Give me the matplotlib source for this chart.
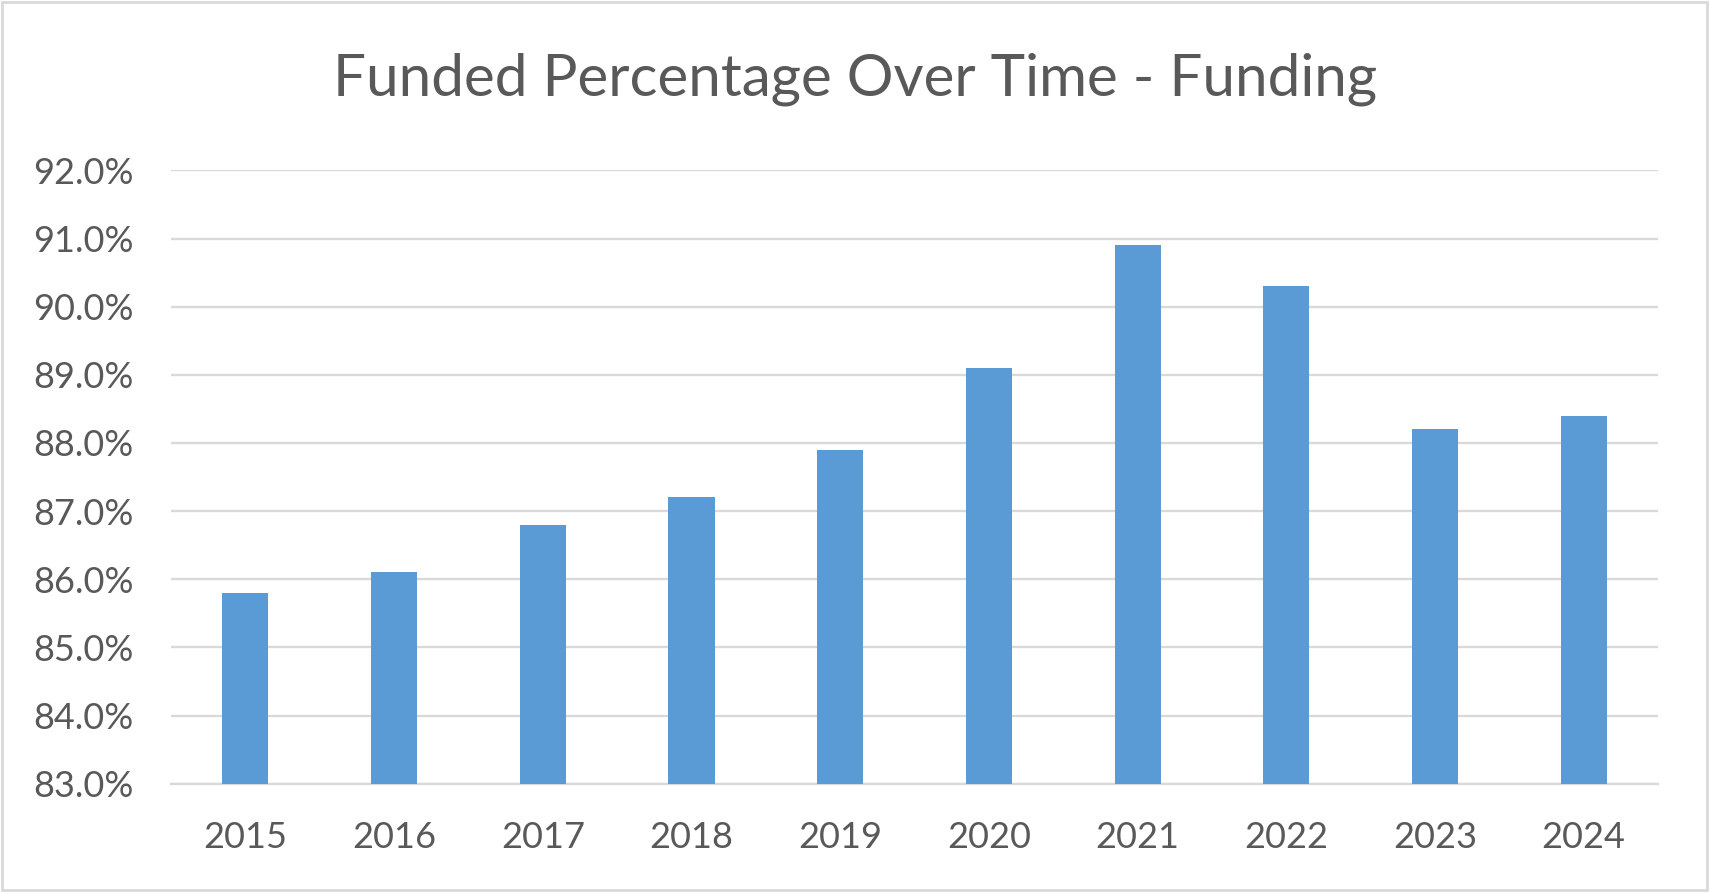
import matplotlib
matplotlib.use("Agg")
import matplotlib.pyplot as plt
from matplotlib.patches import Rectangle

years = ["2015", "2016", "2017", "2018", "2019", "2020", "2021", "2022", "2023", "2024"]
funded_pct = [85.8, 86.1, 86.8, 87.2, 87.9, 89.1, 90.9, 90.3, 88.2, 88.4]
y_ticks = [83, 84, 85, 86, 87, 88, 89, 90, 91, 92]

text_color = "#595959"
grid_color = "#d9d9d9"
bar_color = "#5b9bd5"

plt.rcParams['font.family'] = ['Lato', 'DejaVu Sans']

fig = plt.figure(figsize=(17.1, 8.92), dpi=100)
ax = fig.add_axes([0.1, 0.1214, 0.8696, 0.6876])

x = range(len(years))
ax.bar(x, [v - 83 for v in funded_pct], bottom=83, width=0.31, color=bar_color, zorder=3)

ax.set_xlim(-0.5, len(years) - 0.5)
ax.set_ylim(83, 92)
ax.set_yticks(y_ticks)
ax.set_yticklabels([f"{v:.1f}%" for v in y_ticks])
ax.set_xticks(list(x))
ax.set_xticklabels(years)

ax.grid(axis='y', color=grid_color, linewidth=1.7, zorder=0)
ax.tick_params(axis='both', length=0, labelsize=26, labelcolor=text_color)
ax.tick_params(axis='y', pad=27)
ax.tick_params(axis='x', pad=27)
for s in ["top", "right", "left"]:
    ax.spines[s].set_visible(False)
ax.spines["bottom"].set_color(grid_color)
ax.spines["bottom"].set_linewidth(1.7)

fig.text(0.5, 1 - 96 / 892, "Funded Percentage Over Time - Funding",
         ha='center', va='baseline', fontsize=42, color=text_color)

# thin frame round the whole chart, like the Excel chart area
fig.patches.append(Rectangle((0.001, 0.002), 0.997, 0.996, transform=fig.transFigure,
                             fill=False, edgecolor=grid_color, linewidth=2))

fig.savefig("out.png", dpi=100, facecolor="white")
